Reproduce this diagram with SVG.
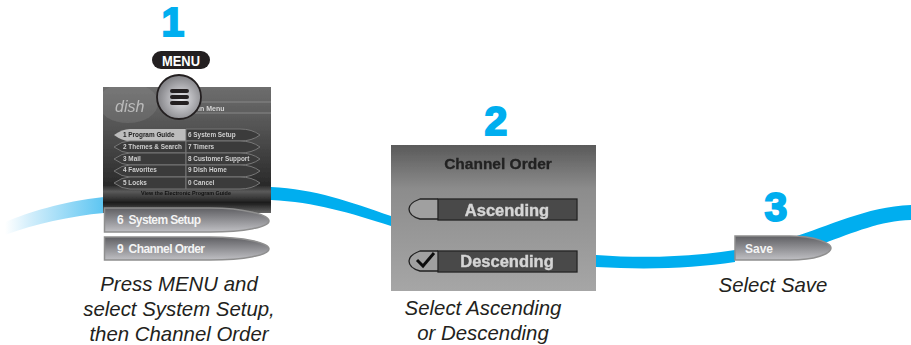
<svg xmlns="http://www.w3.org/2000/svg" width="911" height="345" viewBox="0 0 911 345">
<style>
text{font-family:"Liberation Sans",Arial,sans-serif}
.num{font-size:41px;font-weight:700;fill:#00aeef;text-anchor:middle;stroke:#00aeef;stroke-width:2}
.cap{font-size:20.4px;font-style:italic;fill:#231f20;text-anchor:middle}
.btn{stroke:#8f8f8f;stroke-width:1.5;fill:url(#btn)}
.btxt{font-size:12px;font-weight:700;fill:#f4f4f4}
.pill{fill:#3a3a3a;stroke:#777;stroke-width:1}
.m{font-size:6.4px;font-weight:700;fill:#d0d0d0}
.c2{font-size:16.500px;font-weight:700;fill:#d5d5d5;text-anchor:middle;stroke:#d5d5d5;stroke-width:.4}
</style>
<defs>
<linearGradient id="fade" x1="0" x2="1" y1="0" y2="0"><stop offset="0" stop-color="#fff"/><stop offset=".25" stop-color="#d3eefb"/><stop offset="1" stop-color="#5cc5f2"/></linearGradient>
<linearGradient id="btn" x1="0" x2="0" y1="0" y2="1"><stop offset="0" stop-color="#5f5f63"/><stop offset="1" stop-color="#c0c0c4"/></linearGradient>
<linearGradient id="scr1" x1="0" x2="0" y1="0" y2="1"><stop offset="0" stop-color="#6e6e6e"/><stop offset=".3" stop-color="#555"/><stop offset=".78" stop-color="#2a2a2a"/><stop offset=".83" stop-color="#5a5a5a"/><stop offset=".92" stop-color="#1c1c1c"/><stop offset="1" stop-color="#666"/></linearGradient>
<linearGradient id="scr2" x1="0" x2="0" y1="0" y2="1"><stop offset="0" stop-color="#5a5a5a"/><stop offset=".3" stop-color="#8c8c8c"/><stop offset="1" stop-color="#a6a6a6"/></linearGradient>
<radialGradient id="knob" cx=".55" cy=".55" r=".6"><stop offset="0" stop-color="#e6e6ea"/><stop offset="1" stop-color="#77777b"/></radialGradient>
<clipPath id="clip1"><rect x="103" y="87" width="168" height="126"/></clipPath>
<filter id="soft" x="-5%" y="-5%" width="110%" height="110%"><feGaussianBlur stdDeviation="0.45"/></filter>
</defs>
<g id="connectors">
<path d="M5 222C30 212 60 202 104 197L104 213C70 216 35 224 5 235Z" fill="url(#fade)"/>
<path d="M271 187C315 189 350 202 391 216L391 226C350 213 315 202 271 200Z" fill="#00aeef"/>
<path d="M596 255C650 259 695 256 735 250L735 262C695 268 650 270 596 267Z" fill="#00aeef"/>
<path d="M790 238C830 226 865 207 911 205L911 220C880 221 855 232 822 244Z" fill="#00aeef"/>
</g>
<g id="step1">
<text class="num" x="173" y="36">1</text>
<rect x="152" y="51" width="58" height="18" rx="9" fill="#231f20"/>
<text x="181" y="66" font-size="15.500" font-weight="700" fill="#fff" text-anchor="middle" textLength="38" lengthAdjust="spacingAndGlyphs">MENU</text>
<g filter="url(#soft)">
<rect x="103" y="87" width="168" height="126" fill="url(#scr1)"/>
<g clip-path="url(#clip1)"><ellipse cx="128" cy="103" rx="30" ry="20" fill="#8a8a8a" opacity=".3"/></g>
<text x="115" y="112" font-size="16" font-family="Liberation Serif" fill="#bbb" font-style="italic">dish</text>
<path d="M195 102H271M195 113H271" stroke="#888" stroke-width="1" fill="none"/>
<text x="198" y="111" font-size="7" font-weight="700" fill="#d5d5d5">in Menu</text>
<path d="M114 135Q122 129 130 129H186V141H130Q122 141 114 135Z" fill="#bdbdbd"/>
<path class="pill" d="M114 147Q122 141 130 141H186V153H130Q122 153 114 147Z"/>
<path class="pill" d="M114 159Q122 153 130 153H186V165H130Q122 165 114 159Z"/>
<path class="pill" d="M114 171Q122 165 130 165H186V177H130Q122 177 114 171Z"/>
<path class="pill" d="M114 183Q122 177 130 177H186V189H130Q122 189 114 183Z"/>
<path class="pill" d="M186 129H240Q252 129 260 135Q252 141 240 141H186Z"/>
<path class="pill" d="M186 141H240Q252 141 260 147Q252 153 240 153H186Z"/>
<path class="pill" d="M186 153H240Q252 153 260 159Q252 165 240 165H186Z"/>
<path class="pill" d="M186 165H240Q252 165 260 171Q252 177 240 177H186Z"/>
<path class="pill" d="M186 177H240Q252 177 260 183Q252 189 240 189H186Z"/>
<text class="m" x="123" y="137" style="fill:#222">1 Program Guide</text>
<text class="m" x="123" y="149">2 Themes &amp; Search</text>
<text class="m" x="123" y="161">3 Mail</text>
<text class="m" x="123" y="172">4 Favorites</text>
<text class="m" x="123" y="185">5 Locks</text>
<text class="m" x="188" y="137">6 System Setup</text>
<text class="m" x="188" y="149">7 Timers</text>
<text class="m" x="188" y="161">8 Customer Support</text>
<text class="m" x="188" y="172">9 Dish Home</text>
<text class="m" x="188" y="185">0 Cancel</text>
<text x="186" y="195" font-size="5.400" font-weight="700" fill="#111" text-anchor="middle">View the Electronic Program Guide</text>
</g>
<circle cx="179" cy="97" r="22" fill="url(#knob)" stroke="#231f20" stroke-width="1.800"/>
<path d="M172 91H187M172 97H187M172 103H187" stroke="#231f20" stroke-width="4" stroke-linecap="round" fill="none"/>
<path class="btn" d="M104.500 208H210C245 208 269 215 269 221C269 227 245 232 210 232H104.500Z"/>
<text class="btxt" x="117" y="224" xml:space="preserve" textLength="84" lengthAdjust="spacing">6  System Setup</text>
<path class="btn" d="M104.500 237H210C245 237 269 243 269 249C269 255 245 260 210 260H104.500Z"/>
<text class="btxt" x="117" y="253" xml:space="preserve" textLength="88" lengthAdjust="spacing">9  Channel Order</text>
<text class="cap" x="179" y="291">Press MENU and</text>
<text class="cap" x="179" y="316">select System Setup,</text>
<text class="cap" x="179" y="341">then Channel Order</text>
</g>
<g id="step2">
<text class="num" x="496" y="135">2</text>
<g filter="url(#soft)">
<rect x="391" y="145" width="205" height="146" fill="url(#scr2)"/>
<text x="498" y="169" font-size="15.500" font-weight="700" fill="#222" text-anchor="middle" stroke="#222" stroke-width=".3">Channel Order</text>
<path d="M438 199H420Q409 203 409 209Q409 216 420 219H438" fill="#a0a0a0" stroke="#222" stroke-width="1.300"/>
<rect x="438" y="199" width="139" height="21" fill="#4a4a4a" stroke="#222" stroke-width="1.300"/>
<text class="c2" x="507" y="216">Ascending</text>
<path d="M438 251H420Q409 255 409 261Q409 268 420 271H438" fill="#a0a0a0" stroke="#222" stroke-width="1.300"/>
<path d="M417 260L423 266L434 253" fill="none" stroke="#111" stroke-width="3"/>
<rect x="438" y="251" width="139" height="21" fill="#4a4a4a" stroke="#222" stroke-width="1.300"/>
<text class="c2" x="507" y="267">Descending</text>
</g>
<text class="cap" x="483" y="315">Select Ascending</text>
<text class="cap" x="483" y="340">or Descending</text>
</g>
<g id="step3">
<text class="num" x="776" y="221">3</text>
<path class="btn" d="M735 236H790C815 236 831 243 831 248C831 254 815 260 790 260H735Z"/>
<text class="btxt" x="745" y="253">Save</text>
<text class="cap" x="773" y="292">Select Save</text>
</g>
</svg>
